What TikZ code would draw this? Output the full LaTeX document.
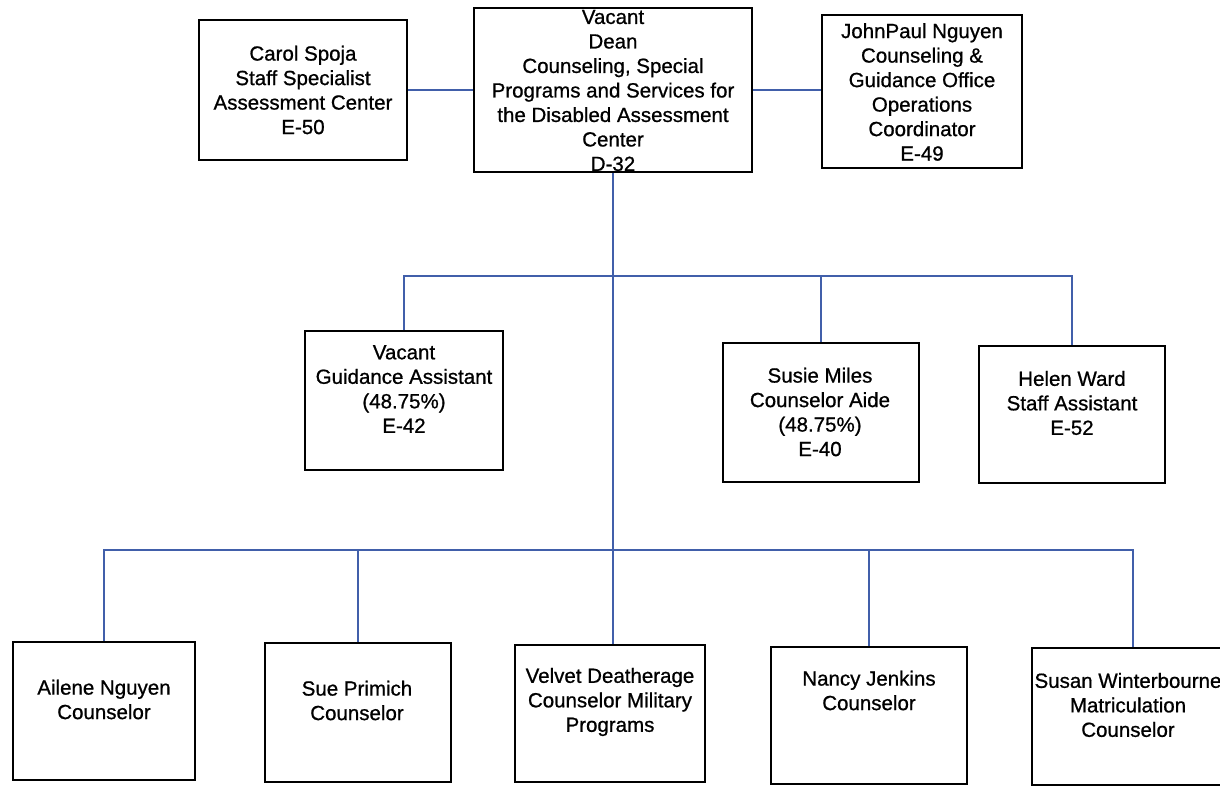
\documentclass[tikz,border=0pt]{standalone}
\usepackage{fontspec}
\setmainfont{Liberation Sans}[FakeBold=0.8]
\definecolor{conncol}{RGB}{65,95,170}
\begin{document}
\begin{tikzpicture}[x=1pt,y=-1pt,
  box/.style={draw=black, line width=1.6pt, inner sep=0pt, fill=white},
  txt/.style={align=center, inner sep=0pt, font=\fontsize{20.5pt}{24.5pt}\selectfont},
  conn/.style={draw=conncol, line width=1.6pt}]
\useasboundingbox (0,0) rectangle (1220,785);
% boxes
\node[box, minimum width=208pt, minimum height=140pt] (carol) at (303,90) {};
\node[box, minimum width=278pt, minimum height=164pt] (dean) at (613,90) {};
\node[box, minimum width=200pt, minimum height=153pt] (john) at (922,91.5) {};
\node[box, minimum width=198pt, minimum height=139pt] (guid) at (404,400.5) {};
\node[box, minimum width=196pt, minimum height=139pt] (susie) at (821,412.5) {};
\node[box, minimum width=186pt, minimum height=137pt] (helen) at (1072,414.5) {};
\node[box, minimum width=182pt, minimum height=138pt] (ail) at (104,711) {};
\node[box, minimum width=186pt, minimum height=139pt] (sue) at (358,712.5) {};
\node[box, minimum width=190pt, minimum height=137pt] (velvet) at (610,713.5) {};
\node[box, minimum width=196pt, minimum height=137pt] (nancy) at (869,715.5) {};
\node[box, minimum width=193pt, minimum height=137pt] (susan) at (1128.5,716.5) {};
% connectors
\coordinate (mb) at (613,276);
\coordinate (bb) at (613,550);
\draw[conn] (carol.east) -- (dean.west);
\draw[conn] (dean.east) -- (dean.east -| john.west);
\draw[conn] (dean.south) -- (dean.south |- velvet.north);
\draw[conn] (guid.north) |- (mb) -| (helen.north);
\draw[conn] (susie.north) -- (susie.north |- mb);
\draw[conn] (ail.north) |- (bb) -| ([xshift=4.5pt]susan.north);
\draw[conn] (sue.north) -- (sue.north |- bb);
\draw[conn] (nancy.north) -- (nancy.north |- bb);
% texts
\node[txt] (carolT) at (303,90) {Carol Spoja\\Staff Specialist\\Assessment Center\\E-50};
\node[txt] (deanT) at (613,90.5) {Vacant\\Dean\\Counseling, Special\\Programs and Services for\\the Disabled Assessment\\Center\\D-32};
\node[txt] (johnT) at (922,92) {JohnPaul Nguyen\\Counseling \&\\Guidance Office\\Operations\\Coordinator\\E-49};
\node[txt] (guidT) at (404,389) {Vacant\\Guidance Assistant\\(48.75\%)\\E-42};
\node[txt] (susieT) at (820,412) {Susie Miles\\Counselor Aide\\(48.75\%)\\E-40};
\node[txt] (helenT) at (1072,403) {Helen Ward\\Staff Assistant\\E-52};
\node[txt] (ailT) at (104,699.5) {Ailene Nguyen\\Counselor};
\node[txt] (sueT) at (357,700.5) {Sue Primich\\Counselor};
\node[txt] (velvetT) at (610,702) {Velvet Deatherage\\Counselor Military\\Programs};
\node[txt] (nancyT) at (869,690.5) {Nancy Jenkins\\Counselor};
\node[txt] (susanT) at (1128,705) {Susan Winterbourne\\Matriculation\\Counselor};
\end{tikzpicture}
\end{document}
